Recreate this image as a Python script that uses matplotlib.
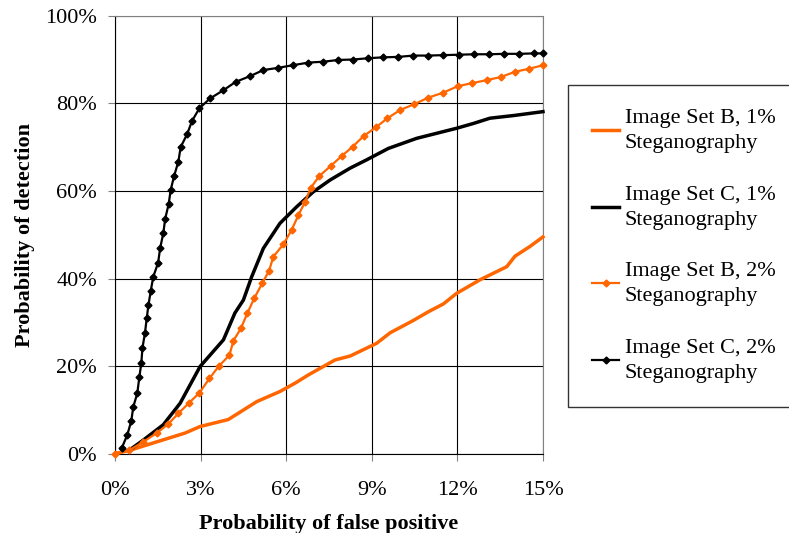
import matplotlib.pyplot as plt
from matplotlib.ticker import FuncFormatter

plt.rcParams['font.family'] = ['Liberation Serif', 'DejaVu Serif']

# Image Set B, 1% (orange solid)
b1_x = [0, 0.53, 1.46, 2.45, 2.98, 3.97, 4.97, 5.78, 6.31, 6.78, 7.30, 7.71, 8.24,
        9.17, 9.64, 10.45, 10.98, 11.51, 11.97, 12.79, 13.73, 14.02, 14.54, 15.0]
b1_y = [0, 0.8, 2.7, 4.7, 6.2, 7.8, 11.9, 14.2, 16.1, 18.0, 19.9, 21.4, 22.3,
        25.2, 27.6, 30.4, 32.4, 34.2, 36.6, 39.7, 42.7, 45.1, 47.3, 49.5]

# Image Set C, 1% (black solid)
c1_x = [0.5, 0.99, 1.69, 2.28, 2.98, 3.80, 4.20, 4.50, 4.79, 5.20, 5.78, 6.37, 6.95,
        7.54, 8.24, 8.82, 9.58, 10.57, 11.97, 12.56, 13.14, 13.96, 15.0]
c1_y = [0.8, 3.1, 6.6, 11.5, 19.9, 26.0, 32.1, 35.1, 40.4, 46.9, 52.6, 56.4, 59.8,
        62.5, 65.2, 67.1, 69.7, 72.0, 74.3, 75.4, 76.6, 77.2, 78.1]

# Image Set B, 2% (orange with markers)
b2_x = [0, 0.5, 0.99, 1.46, 1.87, 2.22, 2.58, 2.96, 3.31, 3.64, 4.01, 4.15, 4.41,
        4.64, 4.88, 5.16, 5.40, 5.55, 5.90, 6.19, 6.43, 6.66, 6.86, 7.16, 7.56,
        7.95, 8.33, 8.71, 9.14, 9.55, 10.0, 10.49, 10.98, 11.49, 12.01, 12.51,
        13.03, 13.52, 14.02, 14.52, 15.0]
b2_y = [0, 0.8, 2.7, 4.7, 6.8, 9.2, 11.5, 13.9, 17.2, 20.0, 22.5, 25.8, 28.6,
        32.1, 35.5, 38.9, 41.8, 45.0, 47.8, 51.1, 54.5, 57.5, 60.7, 63.4, 65.7,
        68.0, 70.1, 72.5, 74.5, 76.6, 78.5, 79.8, 81.3, 82.4, 83.9, 84.6,
        85.3, 86.0, 87.2, 87.9, 88.7]

# Image Set C, 2% (black with markers)
c2_x = [0.23, 0.43, 0.57, 0.64, 0.78, 0.85, 0.92, 0.96, 1.05, 1.11, 1.17, 1.25,
        1.34, 1.51, 1.58, 1.69, 1.76, 1.88, 1.95, 2.07, 2.22, 2.30, 2.53, 2.70,
        2.96, 3.33, 3.80, 4.23, 4.73, 5.20, 5.72, 6.23, 6.78, 7.30, 7.83, 8.35,
        8.88, 9.40, 9.93, 10.45, 10.98, 11.51, 12.06, 12.59, 13.12, 13.64, 14.17,
        14.70, 15.0]
c2_y = [1.2, 4.3, 7.5, 10.7, 13.8, 17.4, 20.6, 24.1, 27.6, 30.9, 33.9, 37.1,
        40.4, 43.6, 46.9, 50.3, 53.7, 57.0, 60.2, 63.4, 66.7, 70.0, 73.0, 76.0,
        78.9, 81.1, 83.0, 84.9, 86.2, 87.6, 88.1, 88.7, 89.3, 89.5, 89.9, 90.0,
        90.3, 90.5, 90.6, 90.9, 90.9, 91.0, 91.1, 91.2, 91.2, 91.3, 91.3,
        91.4, 91.4]

orange = '#FF6600'

fig = plt.figure(figsize=(7.89, 5.33), dpi=100)
ax = fig.add_axes([0.1458, 0.1488, 0.5424, 0.8217])

ax.plot(b1_x, b1_y, color=orange, lw=2.5, label='Image Set B, 1%\nSteganography', clip_on=False, zorder=3)
ax.plot(c1_x, c1_y, color='black', lw=2.5, label='Image Set C, 1%\nSteganography', clip_on=False, zorder=3)
ax.plot(b2_x, b2_y, color=orange, lw=1.6, marker='D', ms=3.5, label='Image Set B, 2%\nSteganography', clip_on=False, zorder=4)
ax.plot(c2_x, c2_y, color='black', lw=1.6, marker='D', ms=3.5, label='Image Set C, 2%\nSteganography', clip_on=False, zorder=4)

ax.set_xlim(0, 15)
ax.set_ylim(0, 100)
ax.set_xticks([0, 3, 6, 9, 12, 15])
ax.set_yticks([0, 20, 40, 60, 80, 100])
ax.xaxis.set_major_formatter(FuncFormatter(lambda v, p: '%d%%' % v))
ax.yaxis.set_major_formatter(FuncFormatter(lambda v, p: '%d%%' % v))
ax.grid(True, color='black', lw=0.8)
ax.set_axisbelow(True)
for side in ['top', 'right']:
    ax.spines[side].set_color('#808080')
for side in ['left', 'bottom']:
    ax.spines[side].set_color('black')
ax.tick_params(direction='out', length=5, color='#808080', labelsize=16, pad=8)
ax.tick_params(axis='x', pad=15)

ax.set_xlabel('Probability of false positive', fontsize=16, fontweight='bold', labelpad=10)
ax.set_ylabel('Probability of detection', fontsize=16, fontweight='bold', labelpad=7)

leg = fig.legend(loc='upper left', bbox_to_anchor=(568 / 789, 1 - 85 / 533), fontsize=16,
                 frameon=True, fancybox=False, edgecolor='black', handlelength=1.2,
                 handletextpad=0.25, labelspacing=1.48, borderpad=1.1, borderaxespad=0)
leg.get_frame().set_linewidth(1)
for t in leg.get_texts():
    t.set_linespacing(1.4)

fig.savefig('out.png', dpi=100)
